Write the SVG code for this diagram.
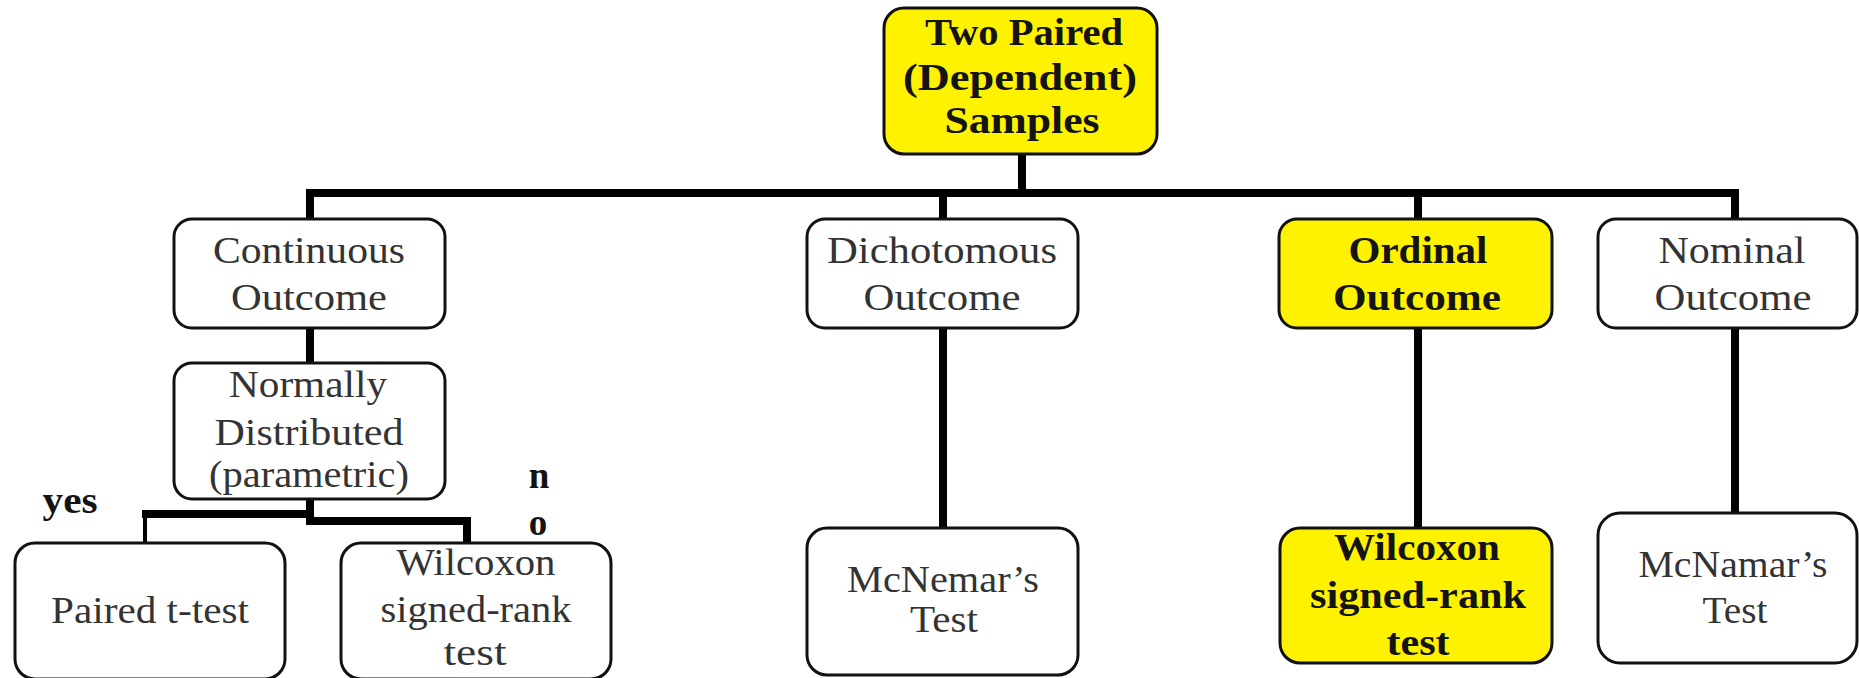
<svg xmlns="http://www.w3.org/2000/svg" width="1859" height="678" viewBox="0 0 1859 678">
  <style>
    .box { fill: #ffffff; stroke: #111111; stroke-width: 3; }
    .hl { fill: #fff200; stroke: #111111; stroke-width: 3; }
    .t { font-family: "Liberation Serif", "DejaVu Serif", serif; font-size: 37px; fill: #333333; text-anchor: middle; }
    .b { font-family: "Liberation Serif", "DejaVu Serif", serif; font-size: 37px; font-weight: bold; fill: #141414; text-anchor: middle; }
    .wire { fill: none; stroke: #000000; stroke-width: 8; }
    .thin { fill: none; stroke: #000000; stroke-width: 4; }
  </style>
  <rect width="1859" height="678" fill="#ffffff"/>

  <!-- tree connectors -->
  <g id="connectors">
    <path class="wire" d="M1022 152 V193"/>
    <path class="wire" d="M306 193 H1739"/>
    <path class="wire" d="M310 193 V221"/>
    <path class="wire" d="M943 193 V221"/>
    <path class="wire" d="M1418 193 V221"/>
    <path class="wire" d="M1735 193 V221"/>
    <path class="wire" d="M310 326 V365"/>
    <path class="wire" d="M943 326 V530"/>
    <path class="wire" d="M1418 326 V530"/>
    <path class="wire" d="M1735 326 V515"/>
    <!-- yes / no split under the normality question -->
    <path class="wire" d="M310 497 V525"/>
    <path class="wire" d="M142 514 H313"/>
    <path class="thin" d="M145 512 V545"/>
    <path class="wire" d="M306 521 H471"/>
    <path class="wire" d="M467 517 V545"/>
  </g>

  <g id="root">
    <rect class="hl" x="884" y="8" width="273" height="146" rx="20"/>
    <text class="b" x="1024" y="45" textLength="198" lengthAdjust="spacingAndGlyphs">Two Paired</text>
    <text class="b" x="1020" y="90" textLength="234" lengthAdjust="spacingAndGlyphs">(Dependent)</text>
    <text class="b" x="1022" y="133" textLength="155" lengthAdjust="spacingAndGlyphs">Samples</text>
  </g>

  <g id="continuous">
    <rect class="box" x="174" y="219" width="271" height="109" rx="18"/>
    <text class="t" x="309" y="263" textLength="192" lengthAdjust="spacingAndGlyphs">Continuous</text>
    <text class="t" x="309" y="310" textLength="156" lengthAdjust="spacingAndGlyphs">Outcome</text>
  </g>

  <g id="normality">
    <rect class="box" x="174" y="363" width="271" height="136" rx="18"/>
    <text class="t" x="308" y="397" textLength="158" lengthAdjust="spacingAndGlyphs">Normally</text>
    <text class="t" x="309" y="445" textLength="189" lengthAdjust="spacingAndGlyphs">Distributed</text>
    <text class="t" x="309" y="487" textLength="200" lengthAdjust="spacingAndGlyphs">(parametric)</text>
  </g>

  <g id="label-yes">
    <text class="b" x="70" y="513" textLength="55" lengthAdjust="spacingAndGlyphs">yes</text>
  </g>
  <g id="label-no">
    <text class="b" x="539" y="488">n</text>
    <text class="b" x="538" y="535">o</text>
  </g>

  <g id="paired-t">
    <rect class="box" x="15" y="543" width="270" height="136" rx="20"/>
    <text class="t" x="150" y="623" textLength="198" lengthAdjust="spacingAndGlyphs">Paired t-test</text>
  </g>

  <g id="wilcoxon-left">
    <rect class="box" x="341" y="543" width="270" height="136" rx="20"/>
    <text class="t" x="476" y="575" textLength="159" lengthAdjust="spacingAndGlyphs">Wilcoxon</text>
    <text class="t" x="476" y="622" textLength="191" lengthAdjust="spacingAndGlyphs">signed-rank</text>
    <text class="t" x="475" y="665" textLength="63" lengthAdjust="spacingAndGlyphs">test</text>
  </g>

  <g id="dichotomous">
    <rect class="box" x="807" y="219" width="271" height="109" rx="18"/>
    <text class="t" x="942" y="263" textLength="230" lengthAdjust="spacingAndGlyphs">Dichotomous</text>
    <text class="t" x="942" y="310" textLength="157" lengthAdjust="spacingAndGlyphs">Outcome</text>
  </g>

  <g id="mcnemar">
    <rect class="box" x="807" y="528" width="271" height="147" rx="20"/>
    <text class="t" x="943" y="592" textLength="192" lengthAdjust="spacingAndGlyphs">McNemar’s</text>
    <text class="t" x="944" y="632" textLength="68" lengthAdjust="spacingAndGlyphs">Test</text>
  </g>

  <g id="ordinal">
    <rect class="hl" x="1279" y="219" width="273" height="109" rx="18"/>
    <text class="b" x="1418" y="263" textLength="139" lengthAdjust="spacingAndGlyphs">Ordinal</text>
    <text class="b" x="1417" y="310" textLength="168" lengthAdjust="spacingAndGlyphs">Outcome</text>
  </g>

  <g id="wilcoxon-right">
    <rect class="hl" x="1280" y="528" width="272" height="135" rx="20"/>
    <text class="b" x="1417" y="560" textLength="166" lengthAdjust="spacingAndGlyphs">Wilcoxon</text>
    <text class="b" x="1418" y="608" textLength="216" lengthAdjust="spacingAndGlyphs">signed-rank</text>
    <text class="b" x="1418" y="655" textLength="63" lengthAdjust="spacingAndGlyphs">test</text>
  </g>

  <g id="nominal">
    <rect class="box" x="1598" y="219" width="259" height="109" rx="18"/>
    <text class="t" x="1732" y="263" textLength="147" lengthAdjust="spacingAndGlyphs">Nominal</text>
    <text class="t" x="1733" y="310" textLength="157" lengthAdjust="spacingAndGlyphs">Outcome</text>
  </g>

  <g id="mcnamar">
    <rect class="box" x="1598" y="513" width="259" height="150" rx="22"/>
    <text class="t" x="1733" y="577" textLength="189" lengthAdjust="spacingAndGlyphs">McNamar’s</text>
    <text class="t" x="1735" y="623" textLength="65" lengthAdjust="spacingAndGlyphs">Test</text>
  </g>
</svg>
